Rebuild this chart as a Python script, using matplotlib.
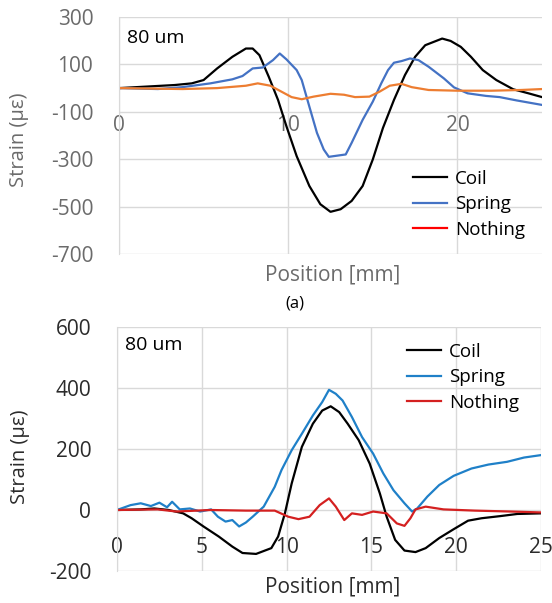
import matplotlib
matplotlib.use("Agg")
import matplotlib.pyplot as plt
from matplotlib.lines import Line2D

plt.rcParams['font.family'] = ['Open Sans', 'DejaVu Sans']
plt.rcParams['axes.unicode_minus'] = False

# ---- panel (a) data: position [mm], strain [ue] ----
top_coil_x = [0, 3.3, 4.3, 5.0, 5.8, 6.7, 7.5, 7.9, 8.3, 8.85, 9.4, 9.9, 10.5, 11.25, 11.9,
              12.5, 13.1, 13.75, 14.4, 15.0, 15.6, 16.25, 16.9, 17.5, 18.1, 19.1, 19.6,
              20.2, 20.8, 21.5, 22.3, 23.3, 24.2, 25.0]
top_coil_y = [0, 13, 20, 34, 83, 132, 167, 167, 139, 48, -50, -162, -287, -413, -490,
              -522, -511, -476, -413, -301, -168, -50, 55, 132, 181, 209, 199,
              174, 132, 76, 34, -5, -22, -38]

top_spring_x = [0, 2.3, 3.75, 5.4, 6.7, 7.3, 7.9, 8.5, 9.1, 9.5, 9.9, 10.5, 10.8, 11.25,
                11.7, 12.1, 12.4, 12.9, 13.4, 13.75, 14.4, 15.0, 15.5, 15.9, 16.25, 16.7,
                17.2, 17.7, 18.3, 19.2, 19.8, 20.6, 21.7, 22.5, 23.5, 25.0]
top_spring_y = [0, -4, 4, 20, 37, 51, 83, 87, 118, 146, 121, 76, 34, -78,
                -189, -259, -290, -285, -280, -231, -134, -57, 20, 76, 107, 114,
                125, 118, 90, 41, 3, -22, -33, -38, -52, -71]

top_nothing_x = [0, 3.75, 5.8, 7.5, 8.2, 8.95, 9.6, 10.2, 10.8, 11.5, 12.5, 13.3, 13.95,
                 14.8, 15.4, 16.0, 16.7, 17.3, 18.3, 20.0, 22.0, 23.75, 25.0]
top_nothing_y = [0, -4, 0, 10, 20, 10, -15, -38, -47, -36, -24, -28, -38,
                 -36, -15, 10, 18, 4, -8, -11, -11, -8, -4]

# ---- panel (b) data ----
bot_coil_x = [0, 1.4, 2.2, 3.05, 3.9, 4.4, 5.1, 6.0, 6.8, 7.4, 8.2, 9.1, 9.5, 9.9, 10.3,
              10.9, 11.55, 12.1, 12.6, 13.1, 13.6, 14.25, 14.9, 15.5, 15.9, 16.4, 16.95,
              17.6, 18.2, 19.0, 19.85, 20.7, 21.5, 22.6, 23.6, 25.0]
bot_coil_y = [0, 2, 5, 0, -11, -27, -54, -87, -120, -141, -144, -125, -87, -11, 87,
              207, 283, 326, 340, 321, 283, 229, 152, 54, -22, -98, -133,
              -138, -125, -92, -63, -35, -27, -20, -13, -11]

bot_spring_x = [0, 0.8, 1.4, 2.0, 2.5, 2.95, 3.25, 3.7, 4.3, 4.9, 5.55, 5.95, 6.4, 6.8,
                7.2, 7.6, 8.0, 8.65, 9.3, 9.7, 10.3, 10.9, 11.55, 12.1, 12.5, 12.9, 13.3,
                13.85, 14.45, 15.1, 15.7, 16.3, 16.95, 17.4, 17.7, 18.3, 19.0, 19.85,
                20.9, 21.9, 23.0, 24.0, 25.0]
bot_spring_y = [0, 16, 22, 13, 24, 9, 27, 2, 5, -5, 2, -22, -38, -33,
                -54, -41, -22, 11, 76, 131, 196, 250, 310, 354, 394, 381, 359,
                305, 239, 185, 120, 65, 22, -5, 5, 44, 82, 112,
                136, 149, 158, 172, 180]

bot_nothing_x = [0, 2.4, 3.5, 5.5, 7.6, 9.3, 10.1, 10.7, 11.35, 11.95, 12.5, 12.9, 13.4,
                 13.85, 14.45, 15.1, 15.9, 16.5, 16.95, 17.3, 17.6, 18.2, 19.25, 21.1,
                 23.2, 25.0]
bot_nothing_y = [0, 2, -5, 0, -2, -2, -22, -30, -22, 16, 38, 11, -33,
                 -11, -16, -5, -11, -44, -52, -27, 2, 11, 2, -2,
                 -5, -8]

series_labels = ["Coil", "Spring", "Nothing"]

W, H = 552, 603
fig = plt.figure(figsize=(W / 100, H / 100), dpi=100)

def fig_rect(l, r, t, b):
    return [l / W, 1 - b / H, (r - l) / W, (b - t) / H]

ax1 = fig.add_axes(fig_rect(119, 542, 17, 254))
ax2 = fig.add_axes(fig_rect(117, 541, 327, 571))

def style_axes(ax, xticks, yticks, ylim, txt_color):
    ax.set_xlim(0, 25)
    ax.set_ylim(*ylim)
    ax.set_xticks(xticks)
    ax.set_yticks(yticks)
    ax.grid(True, color='#d9d9d9', linewidth=1.0)
    ax.set_axisbelow(True)
    for s in ['top', 'right']:
        ax.spines[s].set_visible(False)
    ax.spines['left'].set_color('#d9d9d9')
    # x axis crosses at y=0, its line is hidden
    ax.spines['bottom'].set_position(('data', 0))
    ax.spines['bottom'].set_visible(False)
    ax.tick_params(axis='x', length=0, pad=19.5, labelsize=15, labelcolor=txt_color)
    ax.tick_params(axis='y', length=0, pad=18.5, labelsize=15, labelcolor=txt_color)
    ax.set_ylabel("Strain (\u03bc\u03b5)", fontsize=14.5, color=txt_color)

style_axes(ax1, [0, 10, 20], [-700, -500, -300, -100, 100, 300], (-700, 300), '#6b6b6b')
style_axes(ax2, [0, 5, 10, 15, 20, 25], [-200, 0, 200, 400, 600], (-200, 600), '#2b2b2b')
ax1.yaxis.set_label_coords(-0.213, 0.48)
ax2.yaxis.set_label_coords(-0.205, 0.47)

lw = 1.6
ax1.plot(top_coil_x, top_coil_y, color='#000000', lw=lw)
ax1.plot(top_spring_x, top_spring_y, color='#4472C4', lw=lw)
ax1.plot(top_nothing_x, top_nothing_y, color='#ED7D31', lw=lw)

ax2.plot(bot_coil_x, bot_coil_y, color='#000000', lw=lw)
ax2.plot(bot_spring_x, bot_spring_y, color='#1F80C8', lw=lw)
ax2.plot(bot_nothing_x, bot_nothing_y, color='#D42020', lw=lw)

# legends (panel a legend shows red for "Nothing" as in the original)
h1 = [Line2D([], [], color=c, lw=lw) for c in ['#000000', '#4472C4', '#FF0000']]
h2 = [Line2D([], [], color=c, lw=lw) for c in ['#000000', '#1F80C8', '#D42020']]
leg_kw = dict(frameon=False, fontsize=13.5, loc='upper left', borderaxespad=0,
              borderpad=0, handlelength=1.8, handletextpad=0.45, labelspacing=0.4)
ax1.legend(h1, series_labels, bbox_to_anchor=(0.695, 0.355), **leg_kw)
ax2.legend(h2, series_labels, bbox_to_anchor=(0.684, 0.935), **leg_kw)

ax1.text(0.019, 0.911, "80 um", transform=ax1.transAxes, fontsize=14,
         va='center', ha='left', color='#000000')
ax2.text(0.019, 0.926, "80 um", transform=ax2.transAxes, fontsize=14,
         va='center', ha='left', color='#000000')

fig.text(333 / W, 1 - 275 / H, "Position [mm]", fontsize=15, color='#6b6b6b',
         ha='center', va='center')
fig.text(333 / W, 1 - 587 / H, "Position [mm]", fontsize=15, color='#2b2b2b',
         ha='center', va='center')
fig.text(295 / W, 1 - 303 / H, "(a)", fontsize=12, color='#000000',
         ha='center', va='center')

fig.savefig("out.png", dpi=100)
